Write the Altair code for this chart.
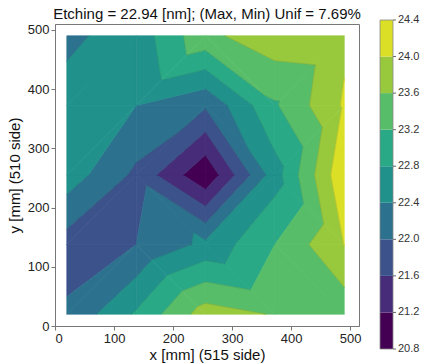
import altair as alt
import pandas as pd

# measurement grid (mm) and etching depth values (nm), rows bottom -> top
x_nodes = [20, 137.5, 255, 372.5, 490]
y_nodes = [20, 137.5, 255, 372.5, 490]
row_y20 = [22.06, 22.85, 23.80, 23.57, 23.34]
row_y137 = [21.82, 22.00, 22.50, 23.20, 24.01]
row_y255 = [22.62, 21.91, 20.86, 22.62, 24.33]
row_y372 = [22.52, 22.40, 22.05, 23.15, 24.05]
row_y490 = [22.33, 22.55, 23.50, 23.85, 23.92]
grid_rows = [row_y20, row_y137, row_y255, row_y372, row_y490]

# triangulation diagonal per cell (rows bottom -> top)
diagonals = [
    ["/", "\\", "\\", "\\"],
    ["/", "\\", "/", "\\"],
    ["/", "/", "\\", "/"],
    ["/", "/", "\\", "/"],
]

levels = [20.8, 21.2, 21.6, 22.0, 22.4, 22.8, 23.2, 23.6, 24.0, 24.4]
level_labels = ["20.8", "21.2", "21.6", "22.0", "22.4", "22.8", "23.2", "23.6", "24.0", "24.4"]
band_colors = ["#440154", "#472c7a", "#3b528b", "#2c728e", "#21918c",
               "#29a985", "#58bd68", "#98c93c", "#dbdf26"]
x_ticks = [0, 100, 200, 300, 400, 500]
y_ticks = [0, 100, 200, 300, 400, 500]
title_text = "Etching = 22.94 [nm]; (Max, Min) Unif = 7.69%"


def clip(poly, vals, level, above):
    out_p, out_v = [], []
    n = len(poly)
    for k in range(n):
        p1, v1 = poly[k], vals[k]
        p2, v2 = poly[(k + 1) % n], vals[(k + 1) % n]
        in1 = v1 >= level if above else v1 <= level
        in2 = v2 >= level if above else v2 <= level
        if in1:
            out_p.append(p1)
            out_v.append(v1)
        if in1 != in2:
            t = (level - v1) / (v2 - v1)
            out_p.append((p1[0] + t * (p2[0] - p1[0]), p1[1] + t * (p2[1] - p1[1])))
            out_v.append(level)
    return out_p, out_v


def area(p):
    s = 0.0
    for k in range(len(p)):
        x1, y1 = p[k]
        x2, y2 = p[(k + 1) % len(p)]
        s += x1 * y2 - x2 * y1
    return abs(s) / 2


rows = []
seg_rows = []
pid = 0
sid = 0
for j in range(4):
    for i in range(4):
        BL = ((x_nodes[i], y_nodes[j]), grid_rows[j][i])
        BR = ((x_nodes[i + 1], y_nodes[j]), grid_rows[j][i + 1])
        TL = ((x_nodes[i], y_nodes[j + 1]), grid_rows[j + 1][i])
        TR = ((x_nodes[i + 1], y_nodes[j + 1]), grid_rows[j + 1][i + 1])
        if diagonals[j][i] == "\\":
            tris = [(BL, BR, TL), (BR, TR, TL)]
        else:
            tris = [(BL, BR, TR), (BL, TR, TL)]
        for tri in tris:
            pts = [t[0] for t in tri]
            vs = [t[1] for t in tri]
            for b in range(9):
                p, v = clip(pts, vs, levels[b], True)
                if len(p) < 3:
                    continue
                p, v = clip(p, v, levels[b + 1], False)
                if len(p) < 3 or area(p) < 1e-6:
                    continue
                p = p + [p[0]]
                for k, (px, py) in enumerate(p):
                    rows.append({"pid": pid, "k": k, "x": px, "y": py, "band": b})
                pid += 1
            # contour line segments inside this triangle
            for lev in levels[1:-1]:
                cross = []
                for e in range(3):
                    (p1, v1), (p2, v2) = (pts[e], vs[e]), (pts[(e + 1) % 3], vs[(e + 1) % 3])
                    if (v1 - lev) * (v2 - lev) < 0:
                        t = (lev - v1) / (v2 - v1)
                        cross.append((p1[0] + t * (p2[0] - p1[0]), p1[1] + t * (p2[1] - p1[1])))
                if len(cross) == 2:
                    for k, (px, py) in enumerate(cross):
                        seg_rows.append({"sid": sid, "k": k, "x": px, "y": py})
                    sid += 1

poly_df = pd.DataFrame(rows)
seg_df = pd.DataFrame(seg_rows)
cb_df = pd.DataFrame({"lo": levels[:-1], "hi": levels[1:], "band": list(range(9))})
tick_df = pd.DataFrame({"lev": levels, "lab": level_labels})
frame_df = pd.DataFrame({"lo": [levels[0]], "hi": [levels[-1]]})
title_df = pd.DataFrame({"t": [title_text]})

FONT = "Liberation Sans"
color_scale = alt.Scale(domain=list(range(9)), range=band_colors)
x_scale = alt.Scale(domain=[0, 515], nice=False, zero=False)
y_scale = alt.Scale(domain=[0, 510], nice=False, zero=False)

fills = alt.Chart(poly_df).mark_line(filled=True, strokeWidth=0.7).encode(
    x=alt.X("x:Q", scale=x_scale,
            axis=alt.Axis(values=x_ticks, title="x [mm] (515 side)", grid=False,
                          tickSize=4, labelPadding=2, titlePadding=2)),
    y=alt.Y("y:Q", scale=y_scale,
            axis=alt.Axis(values=y_ticks, title="y [mm] (510 side)", grid=False,
                          tickSize=4, labelPadding=2, titlePadding=5)),
    order="k:Q",
    detail="pid:N",
    color=alt.Color("band:O", scale=color_scale, legend=None),
    stroke=alt.Stroke("band:O", scale=color_scale, legend=None),
)
isolines = alt.Chart(seg_df).mark_line(color="#000", strokeWidth=0.7, opacity=0.13).encode(
    x=alt.X("x:Q", scale=x_scale),
    y=alt.Y("y:Q", scale=y_scale),
    order="k:Q",
    detail="sid:N",
)
main = alt.layer(fills, isolines)

cb_y = alt.Scale(domain=[levels[0], levels[-1]], range=[325, -4], nice=False, zero=False)
cbar = alt.Chart(cb_df).mark_rect().encode(
    x=alt.value(325), x2=alt.value(338),
    y=alt.Y("lo:Q", scale=cb_y, axis=None),
    y2="hi:Q",
    color=alt.Color("band:O", scale=color_scale, legend=None),
)
cframe = alt.Chart(frame_df).mark_rect(fillOpacity=0, stroke="#888", strokeWidth=0.8).encode(
    x=alt.value(325), x2=alt.value(338),
    y=alt.Y("lo:Q", scale=cb_y, axis=None),
    y2="hi:Q",
)
cticks = alt.Chart(tick_df).mark_rule(color="#666", strokeWidth=1).encode(
    x=alt.value(338), x2=alt.value(341),
    y=alt.Y("lev:Q", scale=cb_y, axis=None),
)
clabels = alt.Chart(tick_df).mark_text(align="left", baseline="middle", font=FONT,
                                        fontSize=11, color="#333").encode(
    x=alt.value(343),
    y=alt.Y("lev:Q", scale=cb_y, axis=None),
    text="lab:N",
)
title_mark = alt.Chart(title_df).mark_text(align="center", baseline="middle", font=FONT,
                                           fontSize=15, color="#111").encode(
    x=alt.value(152), y=alt.value(-10), text="t:N",
)

chart = alt.layer(main, alt.layer(cbar, cframe, cticks, clabels, title_mark)).resolve_scale(
    x="independent", y="independent"
).properties(
    width=304, height=302,
    autosize=alt.AutoSizeParams(type="none"),
    padding={"left": 55, "top": 24, "right": 66, "bottom": 38},
).configure_view(stroke="#777", strokeWidth=1).configure_axis(
    labelFont=FONT, titleFont=FONT, labelFontSize=13, titleFontSize=15,
    titleFontWeight="normal", labelColor="#222", titleColor="#111",
    domainColor="#777", tickColor="#777",
)

chart.save("out.html", embed_options={"renderer": "svg", "actions": False})
